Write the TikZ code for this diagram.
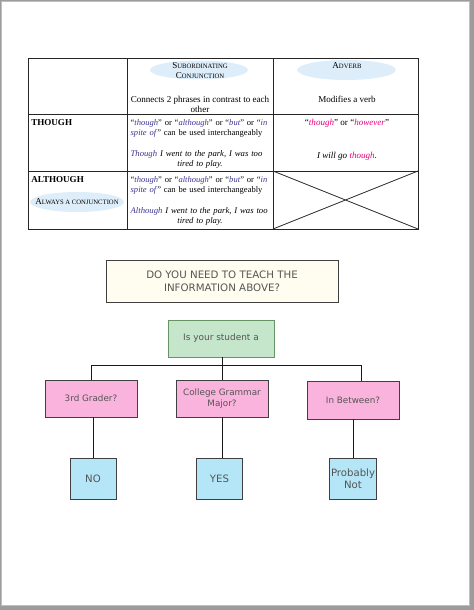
\documentclass[tikz,border=0pt]{standalone}
\usepackage{fontspec}
\setmainfont{Liberation Serif}
\newfontfamily\flowfont{DejaVu Sans}
\definecolor{pagegray}{HTML}{9C9C9C}
\definecolor{conjpurple}{HTML}{3D3592}
\definecolor{advpink}{HTML}{E5007E}
\definecolor{bubble}{HTML}{DDEEFA}
\definecolor{teachfill}{HTML}{FFFDF0}
\definecolor{studentfill}{HTML}{C6E6CB}
\definecolor{gradefill}{HTML}{FAB3DC}
\definecolor{answerfill}{HTML}{B4E6F8}
\definecolor{flowtext}{HTML}{555555}
\newcommand\conjword[1]{\textcolor{conjpurple}{\textit{#1}}}
\newcommand\advword[1]{\textcolor{advpink}{\textit{#1}}}
\newcommand\fakesc[2]{{\fontsize{6.8}{7.5}\selectfont #1}{\fontsize{5}{7.5}\selectfont #2}}
\newcommand\fullline[1]{\makebox[104pt][s]{#1}}
\tikzset{
	cell/.style={font=\fontsize{6.8}{7.5}\selectfont, inner sep=0pt, align=center},
	usecell/.style={cell, text width=104pt, font=\fontsize{6.4}{7.5}\selectfont},
	excell/.style={cell, text width=104pt, font=\fontsize{6.5}{7.5}\selectfont},
	flowbox/.style={draw=#1, line width=0.7pt, text=flowtext, align=center, inner sep=1pt,
		font=\flowfont\fontsize{6.6}{8.3}\selectfont},
	gradebox/.style={flowbox=black!75, fill=gradefill, minimum width=69pt, minimum height=27.75pt},
	answerbox/.style={flowbox=black!75, fill=answerfill, minimum width=34.5pt, minimum height=30.75pt,
		font=\flowfont\fontsize{7.6}{9.3}\selectfont},
	link/.style={line width=0.7pt, black!90}
}
\begin{document}
\begin{tikzpicture}[x=0.75pt,y=-0.75pt]
	\fill[pagegray] (0,0) rectangle (474,610);
	\filldraw[fill=white, draw=black!25, line width=0.6pt] (1.5,1.5) rectangle (469.5,605.5);
	\useasboundingbox (0,0) rectangle (474,610);
	% bubbles behind the headings
	\fill[bubble] (199,70) ellipse [x radius=36.75pt, y radius=7.1pt];
	\fill[bubble] (346.5,70) ellipse [x radius=37pt, y radius=7.5pt];
	\fill[bubble] (77,202) ellipse [x radius=35.25pt, y radius=7.5pt];
	% table
	\draw[line width=0.75pt, black!85](28, 59) rectangle (418, 229);
	\draw[line width=0.75pt, black!85](127, 59) -- (127, 229) (273, 59) -- (273, 229);
	\draw[line width=0.75pt, black!85](28, 114) -- (418, 114) (28, 171) -- (418, 171);
	\draw[line width=0.6pt, black!85](273, 171) -- (418, 229) (273, 229) -- (418, 171);
	\node[cell] (hdrsub) at (200, 71) {\fakesc{S}{UBORDINATING}\\\fakesc{C}{ONJUNCTION}};
	\node[cell] (hdradv) at (347, 66) {\fakesc{A}{DVERB}};
	\node[cell] (subdesc) at (200, 104) {Connects 2 phrases in contrast to each\\other};
	\node[cell] (advdesc) at (347, 99) {Modifies a verb};
	\node[cell, anchor=west, font=\fontsize{6.8}{7.5}\selectfont\bfseries] (though) at (31, 123) {THOUGH};
	\node[cell, anchor=west, font=\fontsize{6.8}{7.5}\selectfont\bfseries] (although) at (31, 180) {ALTHOUGH};
	\node[cell] (alwaysconj) at (77, 202) {\fakesc{A}{LWAYS A CONJUNCTION}};
	\node[usecell] (thoughuse) at (200, 128)
		{\fullline{“\conjword{though}” or “\conjword{although}” or “\conjword{but}” or “\conjword{in}}\\
		\fullline{\conjword{spite of}” can be used interchangeably}};
	\node[excell] (thoughex) at (200, 159)
		{\fullline{\conjword{Though} \textit{I went to the park, I was too}}\\\textit{tired to play.}};
	\node[cell] (advuse) at (347, 123) {“\advword{though}” or “\advword{however}”};
	\node[cell] (advex) at (347, 156) {\textit{I will go} \advword{though}.};
	\node[usecell] (althoughuse) at (200, 185)
		{\fullline{“\conjword{though}” or “\conjword{although}” or “\conjword{but}” or “\conjword{in}}\\
		\fullline{\conjword{spite of}” can be used interchangeably}};
	\node[excell] (althoughex) at (200, 216)
		{\fullline{\conjword{Although} \textit{I went to the park, I was too}}\\\textit{tired to play.}};
	% decision tree
	\node[flowbox=black!75, fill=teachfill, minimum width=174pt, minimum height=31.5pt,
		font=\flowfont\fontsize{7.7}{10}\selectfont] (teach) at (222, 281)
		{DO YOU NEED TO TEACH THE\\INFORMATION ABOVE?};
	\node[flowbox=black!70!green!60, fill=studentfill, minimum width=79.5pt, minimum height=27.75pt,
		font=\flowfont\fontsize{6.7}{8.3}\selectfont] (student) at (221, 338.5) {Is your student a};
	\node[gradebox] (grader) at (91, 398.5) {3rd Grader?};
	\node[gradebox] (college) at (222, 398.5) {College Grammar\\Major?};
	\node[gradebox, minimum height=28.5pt] (between) at (353, 400) {In Between?};
	\node[answerbox] (no) at (93, 478.5) {NO};
	\node[answerbox] (yes) at (219.5, 478.5) {YES};
	\node[answerbox] (probably) at (353, 478.5) {Probably\\Not};
	\coordinate (busleft) at (91, 365.5);
	\coordinate (busright) at (361.7, 365.5);
	\draw[link] (student.south -| college.north) -- (college.north);
	\draw[link] (busleft) -- (busright);
	\draw[link] (busleft) -- (grader.north);
	\draw[link] (busright) -- (busright |- between.north);
	\draw[link] (no.north |- grader.south) -- (no.north);
	\draw[link] (college.south) -- (college.south |- yes.north);
	\draw[link] (between.south) -- (probably.north);
\end{tikzpicture}
\end{document}
